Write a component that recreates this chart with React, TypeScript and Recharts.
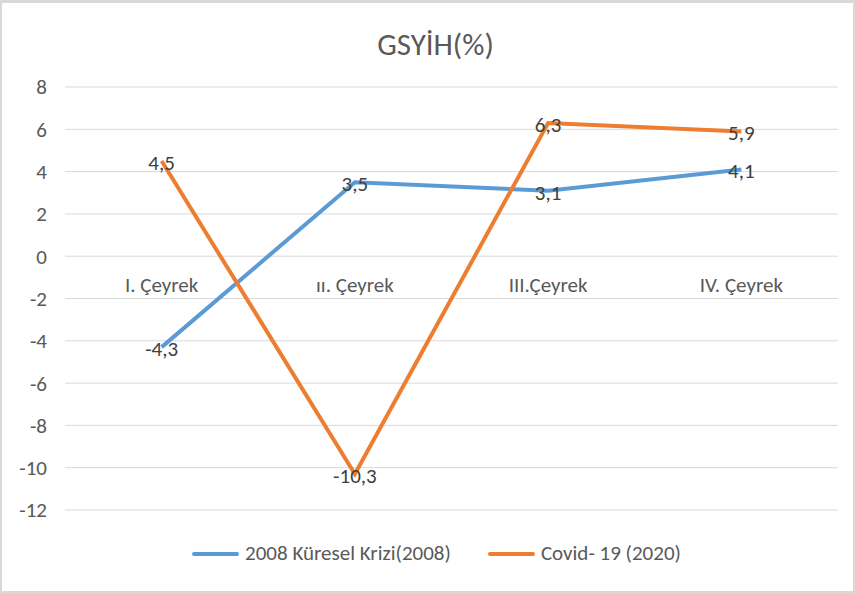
import React from 'react';
import { LineChart, Line, XAxis, YAxis, CartesianGrid, Legend, LabelList } from 'recharts';

const categories = ['I. Çeyrek', 'ıı. Çeyrek', 'III.Çeyrek', 'IV. Çeyrek'];
const kriz2008 = [-4.3, 3.5, 3.1, 4.1];
const covid2020 = [4.5, -10.3, 6.3, 5.9];
const yTicks = [-12, -10, -8, -6, -4, -2, 0, 2, 4, 6, 8];

const SERIES_A = '2008 Küresel Krizi(2008)';
const SERIES_B = 'Covid- 19 (2020)';

const data = categories.map((c, i) => ({
  name: c,
  [SERIES_A]: kriz2008[i],
  [SERIES_B]: covid2020[i],
}));

const FONT = "Carlito, Calibri, 'Open Sans', 'Noto Sans', sans-serif";
const W = 855;
const H = 593;
const TOP = 87;
const PLOT_H = 423;
const PLOT_W = 773;
const Y_MIN = -12;
const Y_MAX = 8;
const HALF_BAND = PLOT_W / categories.length / 2;

const fmt = (v: number) => String(v).replace('.', ',');

const PointLabel = (props: any) => {
  const { x, y, value } = props;
  return (
    <text x={x} y={y + 2} textAnchor="middle" dominantBaseline="central" fill="#404040" fontSize={21} fontFamily={FONT}>
      {fmt(value)}
    </text>
  );
};

// category labels sit just under the zero line, like in Excel
const CategoryTick = (props: any) => {
  const { x, payload } = props;
  const zeroY = TOP + (Y_MAX / (Y_MAX - Y_MIN)) * PLOT_H;
  return (
    <text x={x} y={zeroY + 29} textAnchor="middle" dominantBaseline="central" fill="#595959" fontSize={21} fontFamily={FONT}>
      {payload.value}
    </text>
  );
};

const LegendContent = () => (
  <div
    style={{
      display: 'flex',
      justifyContent: 'center',
      gap: 37,
      paddingLeft: 18,
      fontFamily: FONT,
      fontSize: 21,
      color: '#595959',
      lineHeight: 1,
    }}
  >
    {[
      { label: SERIES_A, color: '#5B9BD5' },
      { label: SERIES_B, color: '#ED7D31' },
    ].map((it) => (
      <div key={it.label} style={{ display: 'flex', alignItems: 'center' }}>
        <span style={{ display: 'inline-block', width: 47, height: 4, background: it.color, borderRadius: 2, marginRight: 6 }} />
        <span>{it.label}</span>
      </div>
    ))}
  </div>
);

export default function App() {
  return (
    <div
      style={{
        position: 'fixed',
        left: 0,
        top: 0,
        width: W,
        height: H,
        background: '#fff',
        boxSizing: 'border-box',
        border: '2px solid #D9D9D9',
        borderTopWidth: 3,
      }}
    >
      <div
        style={{
          position: 'absolute',
          top: 26,
          left: 8,
          width: '100%',
          textAlign: 'center',
          fontFamily: FONT,
          fontSize: 31,
          lineHeight: 1,
          color: '#595959',
        }}
      >
        GSYİH(%)
      </div>
      <div style={{ position: 'absolute', left: -2, top: -3 }}>
        <LineChart width={W} height={H} data={data} margin={{ top: TOP, right: 17, left: 0, bottom: 53 }}>
          <CartesianGrid stroke="#D9D9D9" vertical={false} />
          <XAxis
            dataKey="name"
            axisLine={false}
            tickLine={false}
            height={30}
            tick={<CategoryTick />}
            interval={0}
            padding={{ left: HALF_BAND, right: HALF_BAND }}
          />
          <YAxis
            domain={[Y_MIN, Y_MAX]}
            ticks={yTicks}
            interval={0}
            width={65}
            axisLine={false}
            tickLine={false}
            tickMargin={12}
            tick={{ fill: '#595959', fontSize: 21, fontFamily: FONT }}
          />
          <Legend
            content={<LegendContent />}
            wrapperStyle={{ position: 'absolute', left: 0, width: W, top: 543, bottom: 'auto', height: 0, overflow: 'visible' }}
          />
          <Line
            type="linear"
            dataKey={SERIES_A}
            stroke="#5B9BD5"
            strokeWidth={4}
            dot={false}
            isAnimationActive={false}
          >
            <LabelList dataKey={SERIES_A} content={<PointLabel />} />
          </Line>
          <Line
            type="linear"
            dataKey={SERIES_B}
            stroke="#ED7D31"
            strokeWidth={4}
            dot={false}
            isAnimationActive={false}
          >
            <LabelList dataKey={SERIES_B} content={<PointLabel />} />
          </Line>
        </LineChart>
      </div>
    </div>
  );
}
